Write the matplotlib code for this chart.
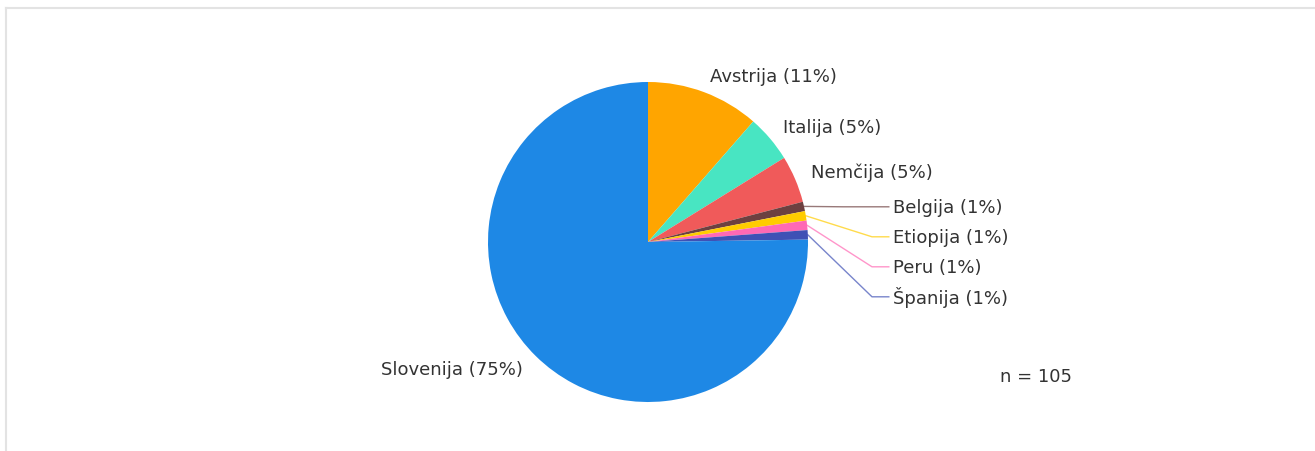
import numpy as np
import matplotlib
matplotlib.use('Agg')
import matplotlib.pyplot as plt
from matplotlib.lines import Line2D

# data (counts, n = 105)
countries = ['Avstrija', 'Italija', 'Nemčija', 'Belgija', 'Etiopija', 'Peru', 'Španija', 'Slovenija']
counts = [12, 5, 5, 1, 1, 1, 1, 79]
colors = ['#ffa500', '#48e5c2', '#f05a5a', '#6d4040', '#ffcc00', '#ff69b4', '#3f51b5', '#1e88e5']
n_total = 105

W, H = 1315, 452
fig = plt.figure(figsize=(W / 100, H / 100), dpi=100)

# frame lines (top and left)
fig.add_artist(Line2D([6 / W, 1], [1 - 9 / H, 1 - 9 / H], color='#e3e3e3', lw=1.5))
fig.add_artist(Line2D([6 / W, 6 / W], [0, 1 - 9 / H], color='#e3e3e3', lw=1.5))

cx, cy, R = 648, 243, 160
ax = fig.add_axes([(cx - R) / W, (H - cy - R) / H, 2 * R / W, 2 * R / H])
ax.set_xlim(-1, 1)
ax.set_ylim(-1, 1)
ax.axis('off')

wedges, _ = ax.pie(counts, colors=colors, startangle=90, counterclock=False,
                   radius=1, center=(0, 0), frame=False)
ax.set_xlim(-1, 1)
ax.set_ylim(-1, 1)

txt_color = '#333333'
fs = 13
stack_y = None
for i, w in enumerate(wedges):
    pct = round(counts[i] / n_total * 100)
    label = f'{countries[i]} ({pct}%)'
    mid = np.deg2rad((w.theta1 + w.theta2) / 2)
    share = counts[i] / n_total
    if share >= 0.03:
        x = 1.11 * np.cos(mid)
        y = 1.11 * np.sin(mid)
        ha = 'left' if x >= 0 else 'right'
        ax.text(x, y, label, ha=ha, va='center', fontsize=fs, color=txt_color, clip_on=False)
    else:
        # small slices: stacked labels with leader lines
        ex, ey = np.cos(mid), np.sin(mid)
        if stack_y is None:
            stack_y = 0.22
        else:
            stack_y -= 0.1875
        lx = 1.53
        elbow_x = 1.40 if i > 3 else 1.22
        ax.plot([ex, elbow_x, lx - 0.025], [ey, stack_y, stack_y], color=colors[i],
                alpha=0.7, lw=1, clip_on=False)
        ax.text(lx, stack_y, label, ha='left', va='center', fontsize=fs,
                color=txt_color, clip_on=False)

fig.text(1000 / W, 1 - 377 / H, f'n = {n_total}', ha='left', va='center',
         fontsize=fs, color=txt_color)

fig.savefig('out.png', dpi=100)
